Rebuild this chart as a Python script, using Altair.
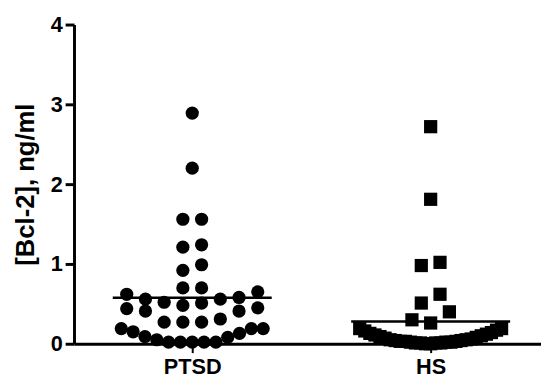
import altair as alt
import pandas as pd

# ---- data ----
categories = ["PTSD", "HS"]
shapes = ["circle", "square"]

ptsd_values = [2.89, 2.20, 1.56, 1.56, 1.24, 1.21, 0.99, 0.92, 0.70, 0.70,
               0.65, 0.62, 0.58, 0.56, 0.56, 0.52, 0.51, 0.48, 0.45, 0.44,
               0.41, 0.41, 0.31, 0.27, 0.27, 0.27, 0.19, 0.19, 0.19, 0.15,
               0.13, 0.09, 0.08, 0.05, 0.02, 0.02, 0.02, 0.02, 0.02]

hs_values = [2.72, 1.81, 1.02, 0.98, 0.62, 0.51, 0.40, 0.30, 0.26,
             0.19, 0.19, 0.17, 0.16, 0.14, 0.13, 0.12, 0.11, 0.10, 0.09,
             0.08, 0.07, 0.06, 0.05, 0.05, 0.04, 0.04, 0.03, 0.03, 0.03,
             0.02, 0.02, 0.02, 0.01, 0.01, 0.01, 0.01, 0.00, 0.00]

y_ticks = [0, 1, 2, 3, 4]

# ---- layout helpers (scatter-dot arrangement computed from values) ----
PX_PER_CAT = 242.0      # pixel distance between the two category centres
PLOT_W = 474
PLOT_H = 324
LEFT_PAD_PX = 120.0     # from plot left edge to first category centre


def dot_offsets(vals, row_h=0.2, max_w=144.0, max_sp=19.0):
    n = len(vals)
    order = sorted(range(n), key=lambda i: vals[i])
    rows, cur, start = [], [], None
    for i in order:
        if cur and vals[i] - start >= row_h:
            rows.append(cur)
            cur = []
        if not cur:
            start = vals[i]
        cur.append(i)
    if cur:
        rows.append(cur)
    offs = [0.0] * n
    for r in rows:
        m = len(r)
        sp = min(max_sp, max_w / (m - 1)) if m > 1 else 0.0
        if m % 2 == 1:
            slots = [0.0]
            k = 1
            while len(slots) < m:
                slots += [-k, k]
                k += 1
        else:
            slots = []
            k = 0.5
            while len(slots) < m:
                slots += [-k, k]
                k += 1
        slots = slots[:m]
        for idx, s in zip(r, slots):
            offs[idx] = s * sp / PX_PER_CAT
    return offs


rows = []
for ci, (cat, vals) in enumerate(zip(categories, [ptsd_values, hs_values])):
    offs = dot_offsets(vals)
    for v, o in zip(vals, offs):
        rows.append({"group": cat, "idx": ci + 1, "value": v, "pos": ci + 1 + o})
df = pd.DataFrame(rows)

x_dom = [1 - LEFT_PAD_PX / PX_PER_CAT, 1 + (PLOT_W - LEFT_PAD_PX) / PX_PER_CAT]
x_scale = alt.Scale(domain=x_dom, nice=False, zero=False)
y_scale = alt.Scale(domain=[0, 4], nice=False)

FONT = "Liberation Sans"
label_expr = " : ".join(
    [f"datum.value == {i + 1} ? '{c}'" for i, c in enumerate(categories[:-1])]
    + [f"'{categories[-1]}'"]
)

x_axis = alt.Axis(values=[1, 2], labelExpr=label_expr, title=None, grid=False,
                  domainColor="black", domainWidth=3, tickColor="black",
                  tickWidth=2, tickSize=9, labelFont=FONT, labelFontSize=22,
                  labelFontWeight="bold", labelColor="black", labelPadding=4)
y_axis = alt.Axis(values=y_ticks, format="d", title="[Bcl-2], ng/ml", grid=False,
                  domainColor="black", domainWidth=3, tickColor="black",
                  tickWidth=3, tickSize=9, labelFont=FONT, labelFontSize=22,
                  labelFontWeight="bold", labelColor="black", labelPadding=3,
                  titleFont=FONT, titleFontSize=26, titleFontWeight="bold",
                  titleColor="black", titlePadding=12)

base = alt.Chart(df)

points = base.mark_point(filled=True, opacity=1, size=180, color="black").encode(
    x=alt.X("pos:Q", scale=x_scale, axis=x_axis),
    y=alt.Y("value:Q", scale=y_scale, axis=y_axis),
    shape=alt.Shape("group:N", scale=alt.Scale(domain=categories, range=shapes),
                    legend=None),
)

means = base.transform_aggregate(
    mean_v="mean(value)", groupby=["group", "idx"]
).transform_calculate(
    x_lo="datum.idx - 1/3", x_hi="datum.idx + 1/3"
).mark_rule(color="black", strokeWidth=2.5).encode(
    x=alt.X("x_lo:Q", scale=x_scale),
    x2="x_hi:Q",
    y=alt.Y("mean_v:Q", scale=y_scale),
)

chart = alt.layer(points, means).properties(
    width=PLOT_W, height=PLOT_H,
    autosize=alt.AutoSizeParams(type="none"),
    padding={"left": 67, "top": 14, "right": 0, "bottom": 33},
    background="white",
).configure_view(stroke=None)

chart.save("out.html", embed_options={"renderer": "svg", "actions": False})
